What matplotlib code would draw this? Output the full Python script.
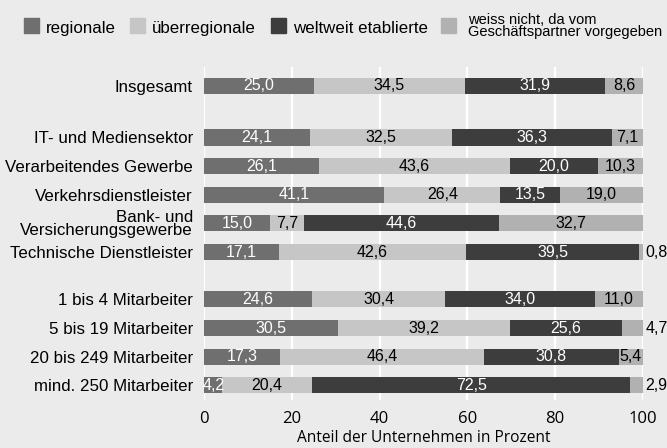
import matplotlib.pyplot as plt
from matplotlib.patches import Rectangle

categories = ['Insgesamt', 'IT- und Mediensektor', 'Verarbeitendes Gewerbe',
              'Verkehrsdienstleister', 'Bank- und\nVersicherungsgewerbe',
              'Technische Dienstleister', '1 bis 4 Mitarbeiter',
              '5 bis 19 Mitarbeiter', '20 bis 249 Mitarbeiter',
              'mind. 250 Mitarbeiter']
regionale = [25.0, 24.1, 26.1, 41.1, 15.0, 17.1, 24.6, 30.5, 17.3, 4.2]
ueberregionale = [34.5, 32.5, 43.6, 26.4, 7.7, 42.6, 30.4, 39.2, 46.4, 20.4]
weltweit = [31.9, 36.3, 20.0, 13.5, 44.6, 39.5, 34.0, 25.6, 30.8, 72.5]
weiss_nicht = [8.6, 7.1, 10.3, 19.0, 32.7, 0.8, 11.0, 4.7, 5.4, 2.9]
series_names = ['regionale', 'überregionale', 'weltweit etablierte',
                'weiss nicht, da vom\nGeschäftspartner vorgegeben']
xticks = [0, 20, 40, 60, 80, 100]

colors = ['#6f6f6f', '#c6c6c6', '#3d3d3d', '#b1b1b1']
text_colors = ['white', 'black', 'white', 'black']
bg = '#ebebeb'
label_font = ['Liberation Sans', 'DejaVu Sans']
value_font = ['Liberation Sans Narrow', 'Liberation Sans', 'DejaVu Sans']
axis_font = ['Open Sans', 'DejaVu Sans']

# row positions: Insgesamt, then branches, then company sizes
ypos = [0.0]
ypos += [1.8 + i for i in range(5)]
ypos += [7.45 + i for i in range(4)]

W, H = 667, 448
fig = plt.figure(figsize=(W / 100, H / 100), dpi=100, facecolor=bg)
ax = fig.add_axes([204 / W, 48 / H, 439 / W, 333 / H], facecolor=bg)

series = [regionale, ueberregionale, weltweit, weiss_nicht]
left = [0.0] * len(categories)
for k, vals in enumerate(series):
    ax.barh(ypos, vals, left=left, height=0.56, color=colors[k], zorder=2)
    for i, v in enumerate(vals):
        txt = f'{v:.1f}'.replace('.', ',')
        if k == 3 and v < 5:
            ax.text(left[i] + v + 0.6, ypos[i], txt, ha='left', va='center',
                    color='black', fontsize=11.5, family=value_font, zorder=3)
        else:
            ax.text(left[i] + v / 2, ypos[i], txt, ha='center', va='center',
                    color=text_colors[k], fontsize=11.5, family=value_font, zorder=3)
    left = [a + b for a, b in zip(left, vals)]

ax.set_xlim(0, 100)
ax.set_ylim(10.96, -0.66)
ax.set_xticks(xticks)
ax.set_xticklabels([str(t) for t in xticks], family=axis_font, fontsize=12)
ax.set_yticks(ypos)
ax.set_yticklabels(categories, family=label_font, fontsize=12.2)
for lab in ax.get_yticklabels():
    lab.set_linespacing(0.85)
ax.tick_params(axis='both', length=0)
ax.tick_params(axis='y', pad=8)
ax.tick_params(axis='x', pad=8)
ax.grid(axis='x', color='white', linewidth=1.6, zorder=0)
for s in ax.spines.values():
    s.set_visible(False)
ax.set_xlabel('Anteil der Unternehmen in Prozent', family=axis_font,
              fontsize=11.2, labelpad=2)

# legend along the top
sq_x = [24, 130, 271, 441]
for k in range(4):
    fig.patches.append(Rectangle((sq_x[k] / W, 1 - 33 / H), 15 / W, 15 / H,
                                 transform=fig.transFigure, color=colors[k]))
    if k < 3:
        fig.text((sq_x[k] + 22) / W, 1 - 33 / H, series_names[k],
                 ha='left', va='baseline', fontsize=12.2, family=label_font)
    else:
        # baseline of the second line
        fig.text((sq_x[k] + 27) / W, 1 - 36 / H, series_names[k],
                 ha='left', va='baseline', fontsize=10.5, family=label_font,
                 linespacing=0.85)

fig.savefig('out.png', dpi=100, facecolor=bg)
